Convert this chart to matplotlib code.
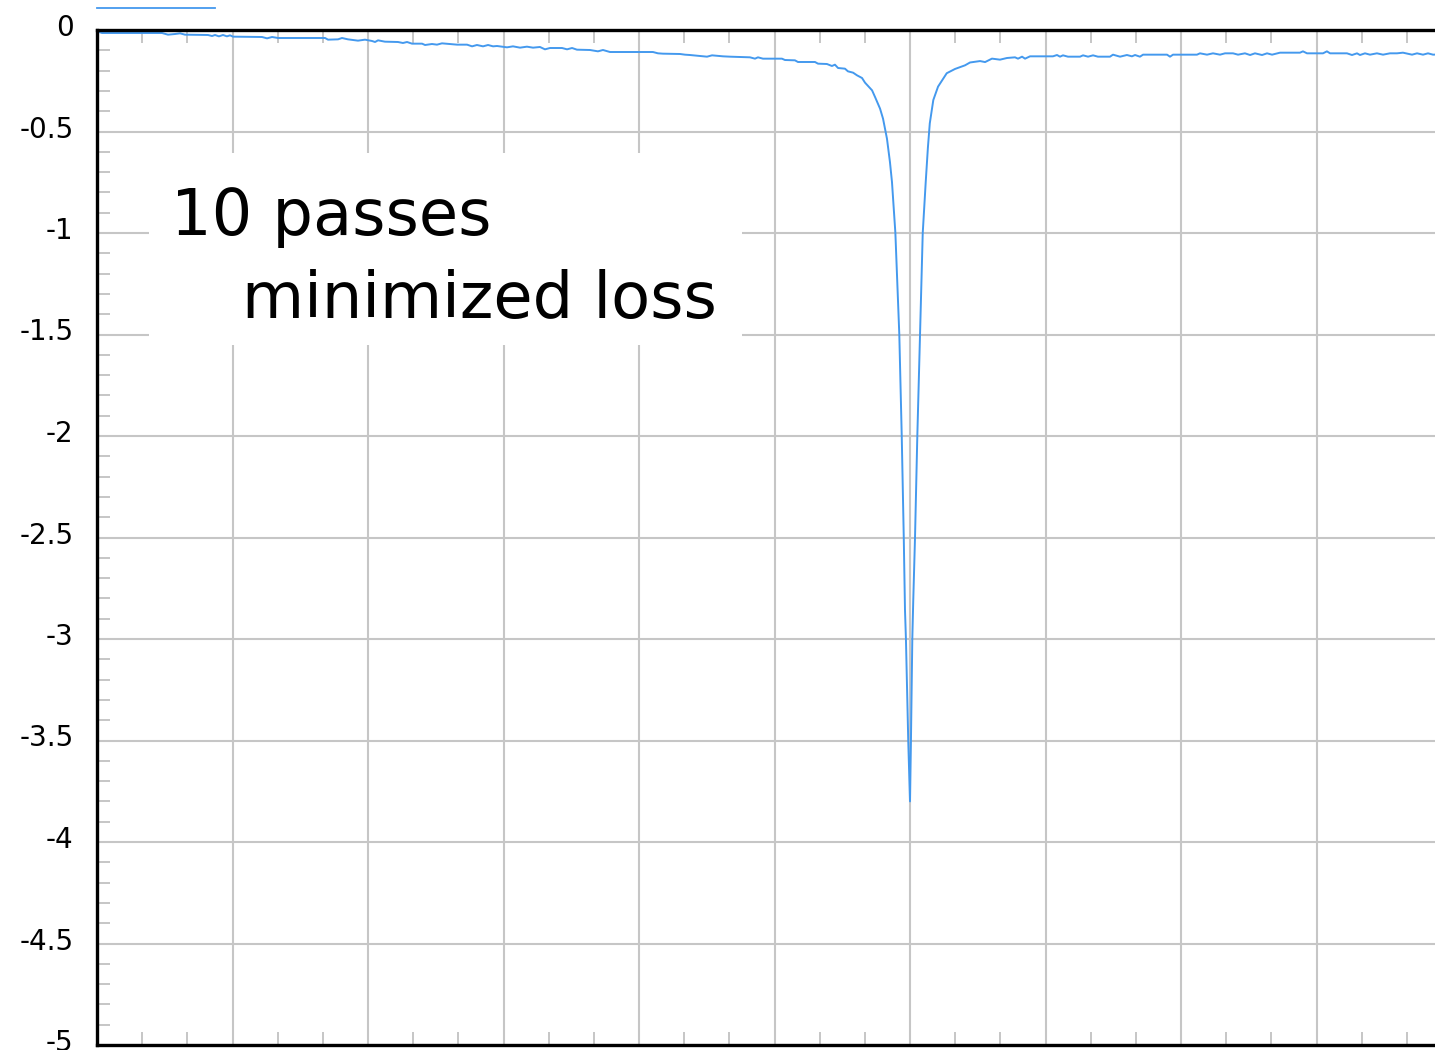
import matplotlib
matplotlib.use("Agg")
import matplotlib.pyplot as plt
from matplotlib.ticker import MultipleLocator, FixedLocator
from matplotlib.transforms import ScaledTranslation
from matplotlib.lines import Line2D
from matplotlib.patches import Rectangle

# training step index and loss value
steps = [
    0, 3.7, 48.0, 52.4, 57.6, 61.3, 64.9, 81.9, 84.9, 87.1, 90.0, 93.0, 95.9, 98.2,
    100.4, 121.8, 125.5, 129.2, 133.6, 168.3, 170.5, 177.9, 180.8, 185.2, 192.6,
    197.8, 203.0, 205.2, 207.4, 212.5, 222.1, 225.8, 228.8, 232.5, 239.9, 242.1,
    247.2, 250.9, 254.6, 260.5, 265.7, 273.1, 276.8, 280.4, 284.9, 288.6, 292.3,
    295.2, 302.6, 307.0, 312.2, 317.3, 321.8, 326.9, 330.6, 334.3, 343.2, 346.9,
    350.6, 354.2, 363.8, 369.7, 373.4, 378.6, 410.3, 414.0, 417.7, 430.3, 433.9,
    437.6, 450.2, 453.9, 462.0, 467.2, 481.9, 485.6, 487.8, 491.5, 505.5, 507.7,
    515.1, 517.3, 529.9, 532.1, 538.7, 542.4, 544.6, 546.9, 552.0, 554.2, 558.0,
    560.9, 564.6, 566.8, 572.0, 574.2, 577.9, 580.1, 583.0, 585.2, 586.7, 589.2,
    592.1, 593.9, 595.4, 596.3, 597.0, 598.7, 600.0, 600.7, 601.7, 602.4, 603.7,
    605.4, 607.4, 609.4, 611.6, 613.2, 614.6, 617.2, 620.7, 627.1, 633.2, 640.6,
    644.3, 651.7, 655.4, 660.5, 666.4, 671.6, 677.5, 679.7, 682.7, 684.9, 688.6,
    705.5, 708.5, 710.7, 712.9, 716.6, 725.5, 727.7, 731.4, 735.1, 738.7, 747.6,
    749.8, 755.0, 760.1, 763.8, 766.1, 769.7, 772.0, 789.7, 791.9, 794.1, 811.8,
    814.0, 819.2, 823.6, 828.8, 832.5, 838.4, 842.1, 847.2, 851.0, 854.6, 859.8,
    863.5, 867.2, 873.1, 887.8, 890.0, 893.0, 904.8, 907.7, 910.0, 922.5, 926.2,
    929.9, 932.1, 935.8, 939.5, 944.6, 949.1, 954.2, 959.4, 963.8, 970.5, 974.2,
    978.6, 982.3, 986.0, 991.1,
]
loss = [
    -0.0066, -0.0148, -0.0148, -0.0230, -0.0197, -0.0164, -0.0230, -0.0246, -0.0296,
    -0.0246, -0.0312, -0.0246, -0.0312, -0.0263, -0.0328, -0.0345, -0.0411, -0.0345,
    -0.0394, -0.0394, -0.0476, -0.0460, -0.0394, -0.0460, -0.0525, -0.0476, -0.0542,
    -0.0591, -0.0509, -0.0575, -0.0591, -0.0640, -0.0591, -0.0673, -0.0673, -0.0739,
    -0.0690, -0.0722, -0.0657, -0.0690, -0.0722, -0.0722, -0.0805, -0.0739, -0.0805,
    -0.0739, -0.0805, -0.0788, -0.0854, -0.0805, -0.0870, -0.0821, -0.0870, -0.0837,
    -0.0952, -0.0887, -0.0887, -0.0952, -0.0887, -0.0969, -0.0985, -0.1051, -0.0985,
    -0.1084, -0.1084, -0.1149, -0.1166, -0.1182, -0.1215, -0.1232, -0.1314, -0.1248,
    -0.1297, -0.1314, -0.1346, -0.1412, -0.1346, -0.1412, -0.1412, -0.1478, -0.1494,
    -0.1576, -0.1576, -0.1658, -0.1675, -0.1773, -0.1708, -0.1872, -0.1905, -0.2036,
    -0.2102, -0.2233, -0.2365, -0.2594, -0.2972, -0.3300, -0.3875, -0.4368, -0.5353,
    -0.6502, -0.7488, -0.999, -1.499, -1.999, -2.501, -2.857, -3.0, -3.5, -3.8, -3.5,
    -3.0, -2.81, -2.5, -2.0, -1.5, -1.0, -0.749, -0.58, -0.46, -0.345, -0.279, -0.213,
    -0.192, -0.174, -0.160, -0.153, -0.158, -0.141, -0.1461, -0.1379, -0.1346,
    -0.1412, -0.1314, -0.1412, -0.1297, -0.1297, -0.1232, -0.1314, -0.1248, -0.1314,
    -0.1314, -0.1248, -0.1314, -0.1248, -0.1314, -0.1314, -0.1215, -0.1314, -0.1232,
    -0.1297, -0.1232, -0.1314, -0.1215, -0.1215, -0.1314, -0.1215, -0.1215, -0.1149,
    -0.1215, -0.1149, -0.1215, -0.1149, -0.1149, -0.1215, -0.1149, -0.1232, -0.1149,
    -0.1232, -0.1149, -0.1215, -0.1117, -0.1117, -0.1051, -0.1149, -0.1149, -0.1051,
    -0.1149, -0.1149, -0.1232, -0.1149, -0.1232, -0.1149, -0.1215, -0.1149, -0.1215,
    -0.1149, -0.1149, -0.1117, -0.1215, -0.1149, -0.1215, -0.1149, -0.1215, -0.1200,
]

y_ticks = [0, -0.5, -1, -1.5, -2, -2.5, -3, -3.5, -4, -4.5, -5]
y_tick_labels = ["0", "-0.5", "-1", "-1.5", "-2", "-2.5", "-3", "-3.5", "-4", "-4.5", "-5"]
note_lines = ["10 passes", "minimized loss"]

W, H, DPI = 1435, 1050, 100
fig = plt.figure(figsize=(W / DPI, H / DPI), dpi=DPI, facecolor="white")
ax = fig.add_axes([97 / W, 5 / H, 1338 / W, 1015 / H])

grid_color = "#c6c6c6"
line_color = "#4499ee"

ax.plot(steps, loss, color=line_color, lw=1.4, zorder=4, solid_joinstyle="round")

ax.set_xlim(0, 1338 / 1.355)
ax.set_ylim(-5, 0)

ax.xaxis.set_major_locator(MultipleLocator(100))
ax.xaxis.set_minor_locator(MultipleLocator(100 / 3))
ax.yaxis.set_major_locator(FixedLocator(y_ticks))
ax.yaxis.set_minor_locator(MultipleLocator(0.1))
ax.set_yticklabels(y_tick_labels)
ax.set_xticklabels([])

ax.grid(True, which="major", color=grid_color, lw=1.5, zorder=0)
ax.set_axisbelow(True)

ax.tick_params(axis="x", which="major", length=0, labelbottom=False)
ax.tick_params(axis="x", which="minor", direction="in", top=True, bottom=True,
               length=9.5, width=1.4, color=grid_color)
ax.tick_params(axis="y", which="major", length=0, pad=17, labelsize=20,
               labelcolor="black")
ax.tick_params(axis="y", which="minor", direction="in", left=True, right=False,
               length=9.5, width=1.4, color=grid_color)

shift = ScaledTranslation(0, 5 / DPI, fig.dpi_scale_trans)
for lab in ax.get_yticklabels():
    lab.set_transform(lab.get_transform() + shift)

for side in ("left", "bottom", "top"):
    ax.spines[side].set_linewidth(2.4)
    ax.spines[side].set_color("black")
    ax.spines[side].set_zorder(5)
ax.spines["right"].set_visible(False)

# white panel behind the annotation
ax.add_patch(Rectangle((52 / 1338, 700 / 1015), 593 / 1338, 192 / 1015,
                       transform=ax.transAxes, facecolor="white",
                       edgecolor="none", zorder=2))
ax.text(74 / 1338, 810 / 1015, note_lines[0], transform=ax.transAxes,
        fontsize=46, ha="left", va="baseline", color="black", zorder=3)
ax.text(145 / 1338, 727 / 1015, note_lines[1], transform=ax.transAxes,
        fontsize=46, ha="left", va="baseline", color="black", zorder=3)

# legend swatch above the plot
fig.add_artist(Line2D([97 / W, 215 / W], [1 - 8 / H, 1 - 8 / H],
                      color=line_color, lw=1.3))

fig.savefig("out.png", dpi=DPI, facecolor="white")
